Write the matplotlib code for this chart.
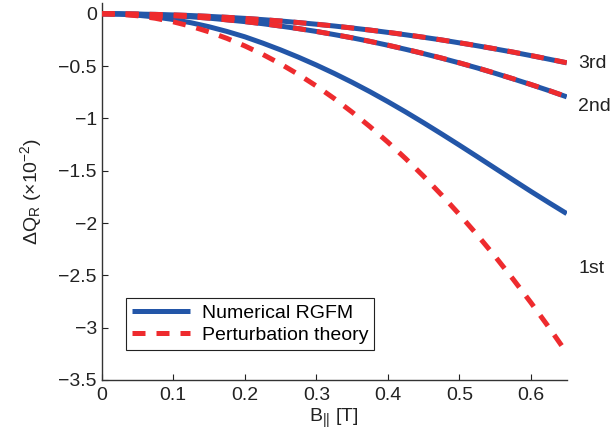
import numpy as np
import matplotlib
matplotlib.use('Agg')
import matplotlib.pyplot as plt
from matplotlib.ticker import FuncFormatter

# data
b_field = [0.0, 0.025, 0.05, 0.075, 0.1, 0.125, 0.15, 0.175, 0.2, 0.225, 0.25, 0.275, 0.3,
           0.325, 0.35, 0.375, 0.4, 0.425, 0.45, 0.475, 0.5, 0.525, 0.55, 0.575, 0.6, 0.625, 0.65]

rgfm_1st = [0.0, -0.003, -0.014, -0.031, -0.055, -0.086, -0.124, -0.169, -0.22, -0.28, -0.345,
            -0.415, -0.49, -0.57, -0.655, -0.745, -0.84, -0.939, -1.042, -1.148, -1.256, -1.366,
            -1.477, -1.588, -1.698, -1.805, -1.91]
pert_1st = [0.0, -0.005, -0.019, -0.043, -0.077, -0.12, -0.173, -0.235, -0.307, -0.388, -0.479,
            -0.58, -0.69, -0.81, -0.94, -1.079, -1.227, -1.385, -1.553, -1.731, -1.918, -2.114,
            -2.32, -2.536, -2.761, -2.996, -3.241]

rgfm_2nd = [0.0, -0.001, -0.005, -0.011, -0.019, -0.029, -0.042, -0.058, -0.075, -0.095, -0.118,
            -0.142, -0.169, -0.199, -0.23, -0.264, -0.301, -0.34, -0.381, -0.424, -0.47, -0.518,
            -0.569, -0.622, -0.677, -0.734, -0.794]
pert_2nd = [0.0, -0.001, -0.005, -0.011, -0.019, -0.029, -0.042, -0.058, -0.075, -0.095, -0.117,
            -0.142, -0.169, -0.198, -0.23, -0.264, -0.3, -0.339, -0.38, -0.423, -0.469, -0.517,
            -0.568, -0.621, -0.676, -0.733, -0.793]

rgfm_3rd = [0.0, -0.001, -0.003, -0.006, -0.011, -0.017, -0.025, -0.034, -0.044, -0.056, -0.069,
            -0.084, -0.1, -0.117, -0.136, -0.156, -0.178, -0.201, -0.225, -0.25, -0.278, -0.306,
            -0.336, -0.367, -0.4, -0.434, -0.469]
pert_3rd = [0.0, -0.001, -0.003, -0.006, -0.011, -0.017, -0.025, -0.034, -0.044, -0.056, -0.069,
            -0.084, -0.1, -0.117, -0.136, -0.156, -0.177, -0.2, -0.224, -0.25, -0.277, -0.305,
            -0.335, -0.366, -0.399, -0.433, -0.468]

order_labels = ['3rd', '2nd', '1st']
order_label_y = [-0.48, -0.89, -2.43]

blue = '#2356A8'
red = '#EE2B2E'

plt.rcParams['font.family'] = ['Liberation Sans', 'DejaVu Sans']
plt.rcParams['mathtext.fontset'] = 'custom'
plt.rcParams['mathtext.rm'] = 'Liberation Sans'
plt.rcParams['mathtext.it'] = 'Liberation Sans:italic'
plt.rcParams['font.size'] = 14


def fmt(v, pos):
    return ('%g' % round(v, 3)).replace('-', '\u2212')


def main():
    fig = plt.figure(figsize=(6.14, 4.46), dpi=100)
    ax = fig.add_axes([0.1656, 0.148, 0.7574, 0.8446])

    lw = 3.6
    dash = (2.6, 2.2)
    for num, pert, lab in [(rgfm_3rd, pert_3rd, False), (rgfm_2nd, pert_2nd, False),
                           (rgfm_1st, pert_1st, True)]:
        ax.plot(b_field, num, color=blue, lw=lw, solid_capstyle='butt',
                label='Numerical RGFM' if lab else None, zorder=2)
        ax.plot(b_field, pert, color=red, lw=lw, dashes=dash, dash_capstyle='butt',
                label='Perturbation theory' if lab else None, zorder=3)

    for t, y in zip(order_labels, order_label_y):
        ax.text(0.666, y, t, fontsize=14, va='center', ha='left', clip_on=False, color='#222222')

    ax.set_xlim(0, 0.65)
    ax.set_ylim(-3.5, 0.1)
    ax.set_xticks(np.arange(0, 0.61, 0.1))
    ax.set_yticks(np.arange(-3.5, 0.01, 0.5))
    ax.xaxis.set_major_formatter(FuncFormatter(fmt))
    ax.yaxis.set_major_formatter(FuncFormatter(fmt))
    ax.tick_params(direction='in', length=4, width=0.8, labelsize=14, colors='#222222')
    ax.tick_params(axis='x', pad=5)
    ax.spines['top'].set_visible(False)
    ax.spines['right'].set_visible(False)
    for s in ['left', 'bottom']:
        ax.spines[s].set_color('#333333')
        ax.spines[s].set_linewidth(1.0)

    ax.set_xlabel(r'B$_{\mathrm{||}}$ [T]', fontsize=14, labelpad=2, color='#222222')
    ax.set_ylabel('\u0394Q$_\\mathrm{R}$ (\u00d710$^{\\mathrm{-2}}$)', fontsize=14, labelpad=10,
                  color='#222222')

    leg = ax.legend(loc='lower left', bbox_to_anchor=(0.052, 0.08), fontsize=14,
                    handlelength=3.0, fancybox=False, framealpha=1,
                    borderpad=0.3, labelspacing=0.25, handletextpad=0.6, borderaxespad=0)
    leg.get_frame().set_edgecolor('#222222')
    leg.get_frame().set_linewidth(0.8)

    fig.savefig('out.png', dpi=100)


if __name__ == '__main__':
    main()
